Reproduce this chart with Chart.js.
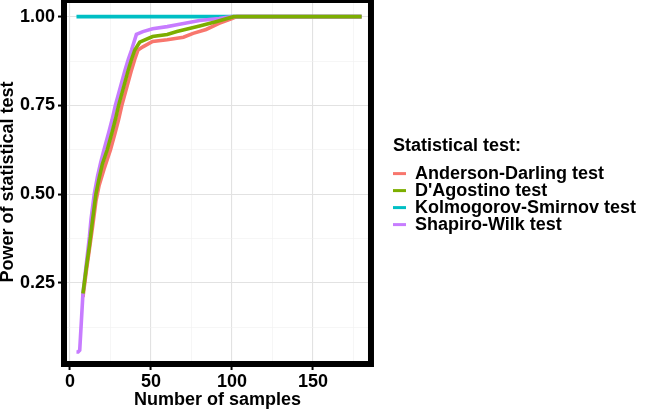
<!DOCTYPE html>
<html lang="en">
<head>
<meta charset="UTF-8">
<title>Power of statistical tests</title>
<script src="https://cdn.jsdelivr.net/npm/chart.js@4.4.1/dist/chart.umd.min.js"></script>
<style>
  body { margin: 0; background: #fff; }
  #chart { display: block; }
</style>
</head>
<body>
<canvas id="chart" width="646" height="411"></canvas>
<script>
// values
const testNames = ['Anderson-Darling test', "D'Agostino test", 'Kolmogorov-Smirnov test', 'Shapiro-Wilk test'];
const testColors = ['#F8766D', '#7CAE00', '#00BFC4', '#C77CFF'];

const adSamples = [8, 10, 12, 14, 16, 18, 21, 25, 28, 30, 32, 35, 38, 40, 42, 45, 51, 60, 66, 70, 76, 84, 92, 100, 103, 180];
const adPower   = [0.21, 0.28, 0.345, 0.41, 0.48, 0.525, 0.57, 0.625, 0.675, 0.71, 0.75, 0.80, 0.85, 0.88, 0.906, 0.915, 0.93, 0.935, 0.939, 0.942, 0.953, 0.964, 0.981, 0.995, 1.0, 1.0];

const daSamples = [8, 10, 12, 14, 16, 18, 20, 23, 26, 28, 30, 33, 36, 38, 40, 43, 51, 60, 66, 80, 90, 101, 180];
const daPower   = [0.22, 0.29, 0.355, 0.43, 0.50, 0.545, 0.585, 0.625, 0.675, 0.71, 0.75, 0.80, 0.85, 0.88, 0.906, 0.928, 0.944, 0.95, 0.958, 0.974, 0.986, 1.0, 1.0];

const ksSamples = [4, 180];
const ksPower   = [1.0, 1.0];

const swSamples = [4, 5, 6, 7, 8, 10, 12, 13, 15, 17, 19, 21, 24, 26, 28, 31, 34, 36, 38, 41, 45, 51, 60, 66, 80, 92, 100, 180];
const swPower   = [0.055, 0.055, 0.06, 0.14, 0.22, 0.30, 0.38, 0.43, 0.50, 0.55, 0.59, 0.625, 0.675, 0.71, 0.75, 0.80, 0.85, 0.88, 0.906, 0.95, 0.958, 0.966, 0.972, 0.977, 0.989, 0.995, 1.0, 1.0];

const xTicks = [0, 25, 50, 75, 100, 125, 150, 175];
const yTicks = [0.125, 0.25, 0.375, 0.5, 0.625, 0.75, 0.875, 1.0];

const toPoints = (xs, ys) => xs.map((x, i) => ({ x: x, y: ys[i] }));
const seriesX = [adSamples, daSamples, ksSamples, swSamples];
const seriesY = [adPower, daPower, ksPower, swPower];
const drawOrder = [2, 0, 3, 1]; // green on top, cyan at the bottom

const isMajorX = v => v % 50 === 0;
const isMajorY = v => Math.abs(v * 4 - Math.round(v * 4)) < 1e-6;
const gridMajor = '#e2e2e2';
const gridMinor = '#f0f0f0';

Chart.defaults.font.family = "'Liberation Sans', Arial, sans-serif";
Chart.defaults.font.weight = 'bold';
Chart.defaults.color = '#000';

// thick black panel border, like the ggplot one
const panelBorder = {
    id: 'panelBorder',
    afterDraw(chart) {
        const { ctx, chartArea: a } = chart;
        ctx.save();
        ctx.lineWidth = 6;
        ctx.strokeStyle = '#000';
        ctx.strokeRect(a.left, a.top, a.right - a.left, a.bottom - a.top);
        ctx.restore();
    }
};

new Chart(document.getElementById('chart'), {
    type: 'line',
    data: {
        datasets: testNames.map((name, i) => ({
            label: name,
            data: toPoints(seriesX[i], seriesY[i]),
            borderColor: testColors[i],
            backgroundColor: testColors[i],
            borderWidth: 3.6,
            pointRadius: 0,
            tension: 0,
            fill: false,
            order: drawOrder[i]
        }))
    },
    options: {
        responsive: false,
        animation: false,
        devicePixelRatio: 1,
        layout: { padding: 0 },
        plugins: {
            tooltip: { enabled: false },
            legend: {
                position: 'right',
                align: 'start',
                maxWidth: 320,
                title: {
                    display: true,
                    text: 'Statistical test:',
                    position: 'start',
                    color: '#000',
                    font: { size: 18, weight: 'bold', lineHeight: 1.2 },
                    padding: { top: 137, bottom: 7 }
                },
                labels: {
                    boxWidth: 14,
                    boxHeight: 3,
                    padding: -1,
                    color: '#000',
                    font: { size: 18, weight: 'bold' },
                    sort: (a, b) => a.datasetIndex - b.datasetIndex,
                    generateLabels: chart => Chart.defaults.plugins.legend.labels.generateLabels(chart)
                        .map(l => Object.assign(l, { lineWidth: 0 }))
                }
            }
        },
        scales: {
            x: {
                type: 'linear',
                min: -3.7,
                max: 185.8,
                afterBuildTicks: s => { s.ticks = xTicks.map(v => ({ value: v })); },
                afterFit: s => {
                    s.height = 47;
                    s.paddingLeft = 0;
                    s.paddingRight = 0;
                },
                border: { display: false },
                grid: {
                    color: c => (c.tick && isMajorX(c.tick.value)) ? gridMajor : gridMinor,
                    lineWidth: c => (c.tick && isMajorX(c.tick.value)) ? 1.1 : 0.6,
                    tickColor: c => (c.tick && isMajorX(c.tick.value)) ? '#000' : 'rgba(0,0,0,0)',
                    tickLength: 6,
                    tickWidth: 2
                },
                ticks: {
                    autoSkip: false,
                    maxRotation: 0,
                    padding: 1,
                    color: '#000',
                    font: { size: 18, weight: 'bold' },
                    callback: v => isMajorX(v) ? String(v) : ''
                },
                title: {
                    display: true,
                    text: 'Number of samples',
                    color: '#000',
                    font: { size: 18, weight: 'bold', lineHeight: 0.9 },
                    padding: { top: 0, bottom: 3 }
                }
            },
            y: {
                type: 'linear',
                position: 'left',
                min: 0.021,
                max: 1.047,
                afterBuildTicks: s => { s.ticks = yTicks.map(v => ({ value: v })); },
                afterFit: s => {
                    s.width = 64;
                    s.paddingTop = 0;
                    s.paddingBottom = 0;
                },
                border: { display: false },
                grid: {
                    color: c => (c.tick && isMajorY(c.tick.value)) ? gridMajor : gridMinor,
                    lineWidth: c => (c.tick && isMajorY(c.tick.value)) ? 1.1 : 0.6,
                    tickColor: c => (c.tick && isMajorY(c.tick.value)) ? '#000' : 'rgba(0,0,0,0)',
                    tickLength: 6,
                    tickWidth: 2
                },
                ticks: {
                    autoSkip: false,
                    padding: 3,
                    color: '#000',
                    font: { size: 18, weight: 'bold' },
                    callback: v => isMajorY(v) ? v.toFixed(2) : ''
                },
                title: {
                    display: true,
                    text: 'Power of statistical test',
                    color: '#000',
                    font: { size: 18, weight: 'bold', lineHeight: 0.9 },
                    padding: 0
                }
            },
            // empty right-hand axis, only keeps the gap before the legend
            gap: {
                type: 'linear',
                position: 'right',
                display: true,
                border: { display: false },
                grid: { display: false },
                ticks: { display: false },
                afterFit: s => {
                    s.width = 22;
                    s.paddingTop = 0;
                    s.paddingBottom = 0;
                }
            }
        }
    },
    plugins: [panelBorder]
});
</script>
</body>
</html>
